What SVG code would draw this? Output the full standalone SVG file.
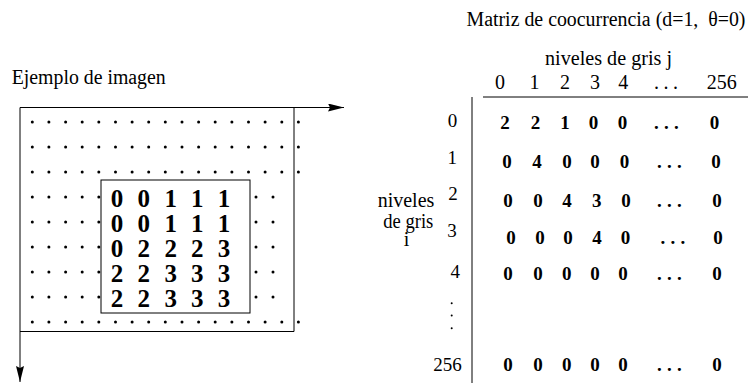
<svg xmlns="http://www.w3.org/2000/svg" xmlns:xlink="http://www.w3.org/1999/xlink" width="748" height="383" viewBox="0 0 748 383">
<defs>
<style>
text{font-family:'Liberation Serif','Tinos','Times New Roman','DejaVu Serif',serif;fill:#000}
.t{font-size:20px}
.lab{font-size:19px;text-anchor:middle}
.v{font-size:19px;font-weight:bold;text-anchor:middle}
.vd{font-size:19px;font-weight:bold;letter-spacing:5.2px}
.big{font-size:25px;font-weight:bold;text-anchor:middle}
.ln{stroke:#000;stroke-width:1;fill:none}
.dot{fill:#000}
</style>
<marker id="arr" markerUnits="userSpaceOnUse" markerWidth="17" markerHeight="9" refX="16" refY="4" orient="auto">
<path d="M0,0 L16,4 L0,8 L2,4 z" fill="#000"/>
</marker>
<circle id="d" r="1.5"/>
</defs>

<g id="image-title">
<text class="t" x="11.7" y="84" textLength="154" lengthAdjust="spacingAndGlyphs">Ejemplo de imagen</text>
</g>

<g id="connectors">
<line class="ln" x1="20" y1="107.5" x2="344" y2="107.5" marker-end="url(#arr)"/>
<line class="ln" x1="20" y1="107.5" x2="20" y2="382" marker-end="url(#arr)"/>
</g>

<g id="image-frame">
<line class="ln" x1="294" y1="107.5" x2="294" y2="331.5"/>
<line class="ln" x1="20" y1="331.5" x2="294" y2="331.5"/>
</g>

<g id="image-dots" class="dot">
<g id="row-full-a">
<use xlink:href="#d" x="32.3" y="122"/><use xlink:href="#d" x="48.9" y="122"/><use xlink:href="#d" x="65.6" y="122"/><use xlink:href="#d" x="82.2" y="122"/><use xlink:href="#d" x="98.8" y="122"/><use xlink:href="#d" x="115.5" y="122"/><use xlink:href="#d" x="132.1" y="122"/><use xlink:href="#d" x="148.7" y="122"/><use xlink:href="#d" x="165.3" y="122"/><use xlink:href="#d" x="182" y="122"/><use xlink:href="#d" x="198.6" y="122"/><use xlink:href="#d" x="215.2" y="122"/><use xlink:href="#d" x="231.9" y="122"/><use xlink:href="#d" x="248.5" y="122"/><use xlink:href="#d" x="265.1" y="122"/><use xlink:href="#d" x="281.8" y="122"/><use xlink:href="#d" x="298.4" y="122"/>
</g>
<use xlink:href="#row-full-a" y="25"/>
<use xlink:href="#row-full-a" y="50"/>
<use xlink:href="#row-full-a" y="200"/>
<g id="row-inner">
<use xlink:href="#d" x="32.3" y="197"/><use xlink:href="#d" x="48.9" y="197"/><use xlink:href="#d" x="65.6" y="197"/><use xlink:href="#d" x="82.2" y="197"/><use xlink:href="#d" x="98.8" y="197"/><use xlink:href="#d" x="256" y="197"/><use xlink:href="#d" x="273" y="197"/>
</g>
<use xlink:href="#row-inner" y="25"/>
<use xlink:href="#row-inner" y="50"/>
<use xlink:href="#row-inner" y="75"/>
<use xlink:href="#row-inner" y="100"/>
</g>

<g id="image-block">
<rect class="ln" x="101" y="180" width="149" height="133"/>
<text class="big" y="206.7"><tspan x="117">0</tspan><tspan x="143.7">0</tspan><tspan x="170.7">1</tspan><tspan x="197.3">1</tspan><tspan x="224">1</tspan></text>
<text class="big" y="231.7"><tspan x="117">0</tspan><tspan x="143.7">0</tspan><tspan x="170.7">1</tspan><tspan x="197.3">1</tspan><tspan x="224">1</tspan></text>
<text class="big" y="256.7"><tspan x="117">0</tspan><tspan x="143.7">2</tspan><tspan x="170.7">2</tspan><tspan x="197.3">2</tspan><tspan x="224">3</tspan></text>
<text class="big" y="281.7"><tspan x="117">2</tspan><tspan x="143.7">2</tspan><tspan x="170.7">3</tspan><tspan x="197.3">3</tspan><tspan x="224">3</tspan></text>
<text class="big" y="306.7"><tspan x="117">2</tspan><tspan x="143.7">2</tspan><tspan x="170.7">3</tspan><tspan x="197.3">3</tspan><tspan x="224">3</tspan></text>
</g>

<g id="matrix-title">
<text class="t" x="466.5" y="26" textLength="279" lengthAdjust="spacingAndGlyphs" xml:space="preserve">Matriz de coocurrencia (d=1,  θ=0)</text>
</g>

<g id="matrix-header">
<text class="t" x="545" y="64.5" textLength="127" lengthAdjust="spacingAndGlyphs">niveles de gris j</text>
<text class="t" y="89.3" text-anchor="middle"><tspan x="500">0</tspan><tspan x="534.5">1</tspan><tspan x="565">2</tspan><tspan x="595">3</tspan><tspan x="623.3">4</tspan><tspan x="721.7">256</tspan></text>
<text class="t" x="654" y="89.3" letter-spacing="4.5">...</text>
</g>

<g id="matrix-axes">
<line class="ln" x1="483" y1="97" x2="748" y2="97" stroke-width="1.3"/>
<line class="ln" x1="472" y1="97" x2="472" y2="383"/>
</g>

<g id="row-labels">
<text class="t" x="377.7" y="207" textLength="56.6" lengthAdjust="spacingAndGlyphs">niveles</text>
<text class="t" x="383.3" y="227.5" textLength="50" lengthAdjust="spacingAndGlyphs">de gris</text>
<text class="t" x="406.5" y="245.5" text-anchor="middle">i</text>
<text class="lab" x="452.5" y="126.7">0</text>
<text class="lab" x="452.3" y="164.3">1</text>
<text class="lab" x="453" y="200">2</text>
<text class="lab" x="452" y="237">3</text>
<text class="lab" x="455.3" y="278.3">4</text>
<text class="lab" x="447.5" y="371">256</text>
<circle class="dot" cx="451.7" cy="303.3" r="1"/>
<circle class="dot" cx="451.7" cy="315.5" r="1"/>
<circle class="dot" cx="451.7" cy="328.3" r="1"/>
</g>

<g id="matrix-values">
<text class="v" y="129"><tspan x="505">2</tspan><tspan x="535.5">2</tspan><tspan x="565">1</tspan><tspan x="593.5">0</tspan><tspan x="622.5">0</tspan><tspan x="714.5">0</tspan></text>
<text class="vd" x="654" y="129">...</text>
<text class="v" y="168"><tspan x="507">0</tspan><tspan x="537">4</tspan><tspan x="567">0</tspan><tspan x="595">0</tspan><tspan x="624.5">0</tspan><tspan x="716">0</tspan></text>
<text class="vd" x="657" y="168">...</text>
<text class="v" y="207"><tspan x="508">0</tspan><tspan x="538">0</tspan><tspan x="567">4</tspan><tspan x="596.7">3</tspan><tspan x="626">0</tspan><tspan x="717">0</tspan></text>
<text class="vd" x="657" y="207">...</text>
<text class="v" y="244"><tspan x="511">0</tspan><tspan x="540">0</tspan><tspan x="568">0</tspan><tspan x="597">4</tspan><tspan x="625.5">0</tspan><tspan x="718">0</tspan></text>
<text class="vd" x="660.5" y="244">...</text>
<text class="v" y="280"><tspan x="508">0</tspan><tspan x="538">0</tspan><tspan x="566.7">0</tspan><tspan x="595">0</tspan><tspan x="623">0</tspan><tspan x="717">0</tspan></text>
<text class="vd" x="657" y="280">...</text>
<text class="v" y="370.7"><tspan x="508">0</tspan><tspan x="538">0</tspan><tspan x="566.7">0</tspan><tspan x="595">0</tspan><tspan x="623">0</tspan><tspan x="717">0</tspan></text>
<text class="vd" x="657" y="370.7">...</text>
</g>
</svg>
